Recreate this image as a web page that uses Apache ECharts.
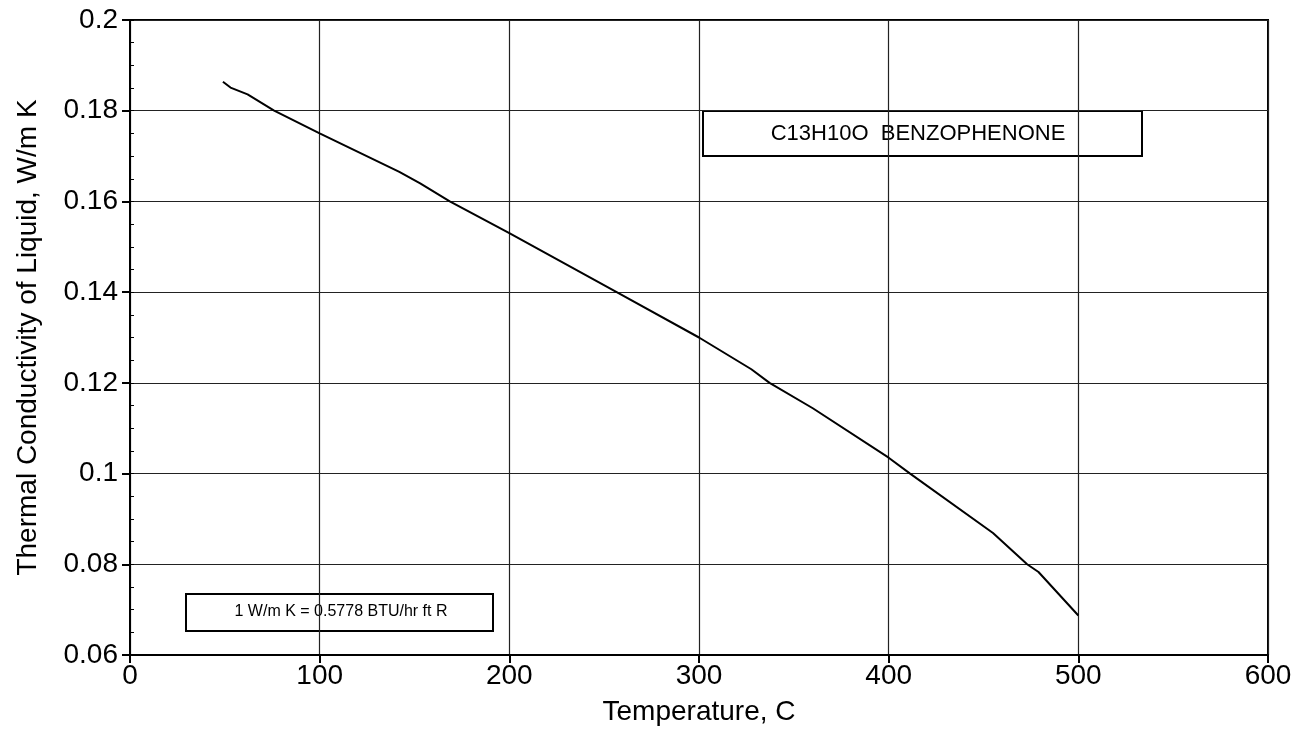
<!DOCTYPE html>
<html>
<head>
<meta charset="utf-8">
<script src="https://cdn.jsdelivr.net/npm/echarts@6/dist/echarts.min.js"></script>
<style>
  html, body { margin: 0; padding: 0; background: #fff; }
  #chart { width: 1312px; height: 736px; }
</style>
</head>
<body>
<div id="chart"></div>
<script>
// temperature, C
var temps = [49, 53, 62, 76, 100, 142, 153, 168.6, 200, 256.6, 300, 327.6, 337.2, 360, 400, 411.3, 455, 473, 479, 500];
// thermal conductivity of liquid, W/m K
var conductivity = [0.1864, 0.1851, 0.1836, 0.18, 0.175, 0.1665, 0.164, 0.16, 0.153, 0.14, 0.130, 0.123, 0.12, 0.1144, 0.1035, 0.10, 0.0869, 0.08, 0.0783, 0.0687];

var compoundLabel = 'C13H10O  BENZOPHENONE';
var unitNote = '1 W/m K = 0.5778 BTU/hr ft R';

var font = '"Liberation Sans", Arial, Helvetica, sans-serif';
var chart = echarts.init(document.getElementById('chart'), null, { renderer: 'canvas' });

var points = temps.map(function (t, i) { return [t, conductivity[i]]; });

chart.setOption({
  backgroundColor: '#fff',
  animation: false,
  grid: {
    left: 130, right: 44, top: 20, bottom: 81,
    show: true, borderColor: '#000', borderWidth: 2
  },
  xAxis: {
    type: 'value',
    min: 0, max: 600, interval: 100,
    name: 'Temperature, C',
    nameLocation: 'middle',
    nameGap: 43,
    nameTextStyle: { fontFamily: font, fontSize: 28, color: '#000' },
    axisLine: { onZero: false, lineStyle: { color: '#000', width: 2 } },
    axisTick: { inside: false, length: 8, lineStyle: { color: '#000', width: 2 } },
    axisLabel: { fontFamily: font, fontSize: 28, color: '#000', margin: 7 },
    splitLine: { show: true, lineStyle: { color: '#222', width: 1.2 } }
  },
  yAxis: [{
    type: 'value',
    min: 0.06, max: 0.2, interval: 0.02,
    name: 'Thermal Conductivity of Liquid, W/m K',
    nameLocation: 'middle',
    nameGap: 88,
    nameTextStyle: { fontFamily: font, fontSize: 28, color: '#000' },
    axisLine: { onZero: false, lineStyle: { color: '#000', width: 2 } },
    axisTick: { inside: false, length: 8, lineStyle: { color: '#000', width: 2 } },
    axisLabel: { fontFamily: font, fontSize: 28, color: '#000', margin: 12 },
    splitLine: { show: true, lineStyle: { color: '#222', width: 1.2 } }
  }, {
    // inner minor ticks only
    type: 'value',
    position: 'left',
    offset: 0,
    min: 0.06, max: 0.2, interval: 0.02,
    axisLine: { show: false },
    axisTick: { show: true, inside: true, length: 4, lineStyle: { color: '#000', width: 1 } },
    minorTick: { show: true, splitNumber: 4, length: 4, lineStyle: { color: '#000', width: 1 } },
    axisLabel: { show: false },
    splitLine: { show: false }
  }],
  series: [{
    type: 'line',
    data: points,
    showSymbol: false,
    smooth: false,
    lineStyle: { color: '#000', width: 2 }
  }],
  graphic: [
    {
      type: 'group', left: 702, top: 110,
      children: [
        { type: 'rect', shape: { x: 0, y: 0, width: 439, height: 45 },
          style: { fill: '#fff', stroke: '#000', lineWidth: 2 } },
        { type: 'text', x: 215, y: 23,
          style: { text: compoundLabel, fontFamily: font, fontSize: 22, fill: '#000', align: 'center', verticalAlign: 'middle' } }
      ]
    },
    {
      type: 'group', left: 185, top: 593,
      children: [
        { type: 'rect', shape: { x: 0, y: 0, width: 307, height: 37 },
          style: { fill: '#fff', stroke: '#000', lineWidth: 2 } },
        { type: 'text', x: 155, y: 18,
          style: { text: unitNote, fontFamily: font, fontSize: 16, fill: '#000', align: 'center', verticalAlign: 'middle' } }
      ]
    }
  ]
});
</script>
</body>
</html>
